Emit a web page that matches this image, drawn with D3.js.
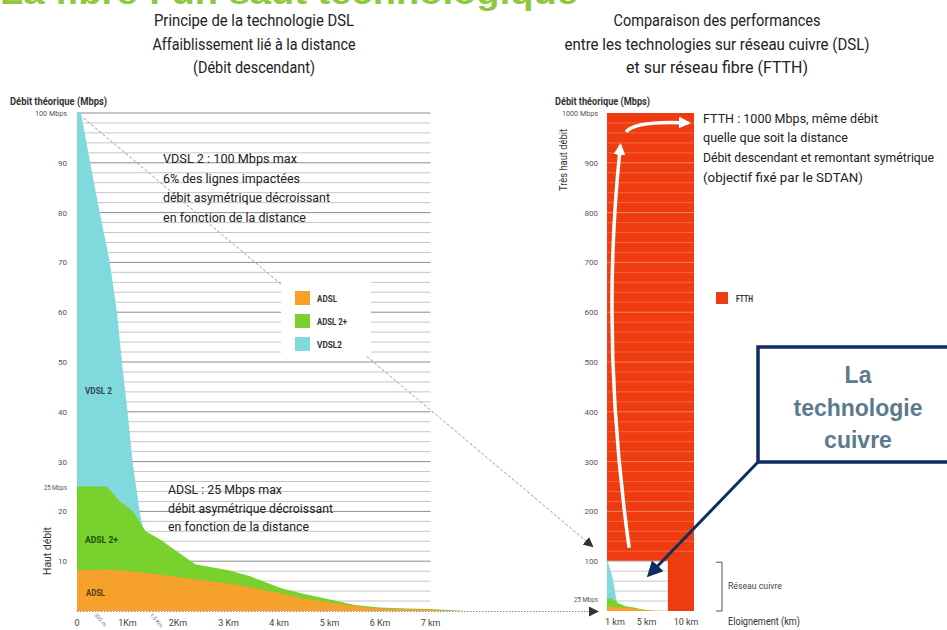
<!DOCTYPE html>
<html><head><meta charset="utf-8">
<script src="https://cdn.jsdelivr.net/npm/d3@7"></script>
<style>body{margin:0;background:#fff}svg{display:block}text{font-family:Roboto,"Open Sans",sans-serif}</style>
</head><body><svg id="c" width="947" height="630"></svg>
<script>
// ---------- DATA ----------
const seriesNames  = ["ADSL", "ADSL 2+", "VDSL2"];
const seriesColors = ["#f6a12b", "#78d12c", "#80d9dd"];
const seriesInside = ["ADSL", "ADSL 2+", "VDSL 2"];

const vdslKm    = [0, 0.08, 0.26, 0.45, 0.65, 0.79, 0.89, 1.0, 1.1, 1.17, 1.24, 1.3, 1.4];
const vdslMbps  = [100, 100, 90, 80, 70, 60, 50, 40, 30, 25, 20, 17, 0];
const adsl2Km   = [0, 0.59, 0.85, 1.11, 1.36, 1.64, 2.34, 3.0, 3.43, 4.03, 4.42, 5.05, 5.5, 6.0, 6.5, 7.0, 7.7];
const adsl2Mbps = [25, 25, 22, 20, 16, 14.4, 9.4, 8.2, 7.0, 4.6, 3.6, 2.2, 1.2, 0.7, 0.5, 0.4, 0];
const adslKm    = [0, 0.6, 1.25, 2.34, 3.0, 3.43, 4.0, 4.42, 5.05, 5.5, 6.0, 7.0, 7.4];
const adslMbps  = [8.2, 8.3, 7.8, 6.4, 5.5, 4.8, 3.6, 2.6, 1.6, 1.0, 0.5, 0.3, 0];

const leftYTicks  = [10, 20, 25, 30, 40, 50, 60, 70, 80, 90, 100];
const leftYLabels = ["10", "20", "25 Mbps", "30", "40", "50", "60", "70", "80", "90", "100 Mbps"];
const leftXTicks  = [0, 1, 2, 3, 4, 5, 6, 7];
const leftXLabels = ["0", "1Km", "2Km", "3 Km", "4 km", "5 km", "6 Km", "7 km"];
const leftXMinor  = [0.2, 1.3];
const leftXMinorLabels = ["300 m", "1,5 Km"];

const ftthName = "FTTH";
const ftthColor = "#ee3c10";
const ftthMbps = 1000;
const ftthKm = 11;
const copperKm = 7.7;
const copperMbps = 100;
const rightYTicks  = [25, 100, 200, 300, 400, 500, 600, 700, 800, 900, 1000];
const rightYLabels = ["25 Mbps", "100", "200", "300", "400", "500", "600", "700", "800", "900", "1000 Mbps"];
const rightXTicks  = [1, 5, 10];
const rightXLabels = ["1 km", "5 km", "10 km"];

const titleTop   = "La fibre : un saut technologique";
const titleLeft  = ["Principe de la technologie DSL", "Affaiblissement lié à la distance", "(Débit descendant)"];
const titleRight = ["Comparaison des performances", "entre les technologies sur réseau cuivre (DSL)", "et sur réseau fibre (FTTH)"];
const noteVdsl = ["VDSL 2 : 100 Mbps max", "6% des lignes impactées", "débit asymétrique décroissant", "en fonction de la distance"];
const noteAdsl = ["ADSL : 25 Mbps max", "débit asymétrique décroissant", "en fonction de la distance"];
const noteFtth = ["FTTH : 1000 Mbps, même débit", "quelle que soit la distance", "Débit descendant et remontant symétrique", "(objectif fixé par le SDTAN)"];
const boxLines = ["La", "technologie", "cuivre"];

// ---------- SETUP ----------
const svg = d3.select("#c");
const zip = (ks, vs) => ks.map((k, i) => ({km: k, v: vs[i]}));
const series = [zip(adslKm, adslMbps), zip(adsl2Km, adsl2Mbps), zip(vdslKm, vdslMbps)];

const xL = d3.scaleLinear().domain([0, 7]).range([77, 430.5]);
const yL = d3.scaleLinear().domain([0, 100]).range([611, 113]);
const xR = d3.scaleLinear().domain([0, ftthKm]).range([607, 694]);
const yR = d3.scaleLinear().domain([0, 1000]).range([611, 113]);

const defs = svg.append("defs");
function marker(id, color, size) {
  defs.append("marker").attr("id", id).attr("viewBox", "0 0 10 10").attr("refX", 8).attr("refY", 5)
    .attr("markerWidth", size).attr("markerHeight", size).attr("orient", "auto").attr("markerUnits", "userSpaceOnUse")
    .append("path").attr("d", "M0,0 L10,5 L0,10 z").attr("fill", color);
}
marker("mk", "#333", 10);
marker("mw", "#fff", 12);
marker("mn", "#0f2d62", 16);

function txt(g, x, y, s, o = {}) {
  const t = g.append("text").attr("x", x).attr("y", y).text(s)
    .attr("font-size", o.size || 12).attr("fill", o.fill || "#222")
    .attr("text-anchor", o.anchor || "start").attr("font-weight", o.weight || 400);
  if (o.len) t.attr("textLength", o.len).attr("lengthAdjust", "spacingAndGlyphs");
  if (o.family) t.style("font-family", o.family);
  if (o.rotate) t.attr("transform", `rotate(${o.rotate},${x},${y})`);
  return t;
}

// ---------- TOP TITLE (cut at the top edge, as in the reference) ----------
txt(svg, 0, 4, titleTop, {size: 34, weight: 700, fill: "#8fc740", len: 578, family: "'Liberation Sans',Arial,sans-serif"});

const tl = [200, 203, 122], tr = [207, 305, 182], tb = [26, 50, 73];
titleLeft.forEach((s, i) => txt(svg, 254, tb[i], s, {size: 16, anchor: "middle", len: tl[i], fill: "#222"}));
titleRight.forEach((s, i) => txt(svg, 717, tb[i], s, {size: 16, anchor: "middle", len: tr[i], fill: "#222"}));

// ---------- LEFT CHART ----------
const gL = svg.append("g");
d3.range(2, 101, 2).forEach(v => {
  gL.append("line").attr("x1", xL(0)).attr("x2", xL(7)).attr("y1", yL(v)).attr("y2", yL(v))
    .attr("stroke", v % 10 === 0 ? "#8c8c8c" : "#c6c6c6").attr("stroke-width", 1);
});
const areaL = d3.area().x(d => xL(d.km)).y0(yL(0)).y1(d => yL(d.v));
[2, 1, 0].forEach(i => gL.append("path").attr("d", areaL(series[i])).attr("fill", seriesColors[i]));

svg.append("line").attr("x1", xL(0)).attr("x2", 597).attr("y1", yL(0) + 0.5).attr("y2", yL(0) + 0.5)
  .attr("stroke", "#8a8a8a").attr("stroke-dasharray", "1.5,1.5").attr("marker-end", "url(#mk)");
svg.append("line").attr("x1", xL(0.13)).attr("y1", yL(99)).attr("x2", 592).attr("y2", 546)
  .attr("stroke", "#9a9a9a").attr("stroke-dasharray", "3,2").attr("marker-end", "url(#mk)");

leftYTicks.forEach((v, i) => txt(gL, 67, yL(v) + 3, leftYLabels[i], {size: 8, anchor: "end", fill: "#555", len: leftYLabels[i].length > 3 ? (v === 100 ? 32 : 23) : null}));
leftXTicks.forEach((v, i) => txt(gL, xL(v), 626, leftXLabels[i], {size: 9, anchor: "middle", fill: "#444"}));
leftXMinor.forEach((v, i) => txt(gL, xL(v) + 7, 615, leftXMinorLabels[i], {size: 5.5, fill: "#777", rotate: 50}));
txt(gL, 10, 105, "Débit théorique (Mbps)", {size: 10, weight: 700, fill: "#333", len: 97});
txt(gL, 51, 551, "Haut débit", {size: 11, anchor: "middle", fill: "#333", rotate: -90, len: 48});

txt(gL, 85, 394, seriesInside[2], {size: 9, weight: 700, fill: "#2c4a4a", len: 27});
txt(gL, 85, 543, seriesInside[1], {size: 9, weight: 700, fill: "#234d12", len: 33});
txt(gL, 86, 596, seriesInside[0], {size: 9, weight: 700, fill: "#5a3a10", len: 19});

const vb = [163, 183, 202, 222], vl = [134, 137, 167, 143];
noteVdsl.forEach((s, i) => txt(svg, 163, vb[i], s, {size: 13, fill: "#222", len: vl[i]}));
const ab = [494, 513, 531], al = [114, 165, 141];
noteAdsl.forEach((s, i) => txt(svg, 168, ab[i], s, {size: 13, fill: "#222", len: al[i]}));

const leg = svg.append("g");
leg.append("rect").attr("x", 281).attr("y", 281).attr("width", 90).attr("height", 75).attr("fill", "#fff");
seriesNames.forEach((n, i) => {
  leg.append("rect").attr("x", 295).attr("y", 291 + i * 23).attr("width", 15).attr("height", 14).attr("fill", seriesColors[i]);
  txt(leg, 317, 302 + i * 23, n, {size: 8.5, weight: 700, fill: "#333", len: [20, 30, 25][i]});
});

// ---------- RIGHT CHART ----------
const gR = svg.append("g");
gR.append("rect").attr("x", xR(0)).attr("y", yR(ftthMbps)).attr("width", xR(ftthKm) - xR(0))
  .attr("height", yR(0) - yR(ftthMbps)).attr("fill", ftthColor);
d3.range(120, 1000, 20).forEach(v => {
  gR.append("line").attr("x1", xR(0)).attr("x2", xR(ftthKm)).attr("y1", yR(v)).attr("y2", yR(v))
    .attr("stroke", "#ff9a78").attr("stroke-opacity", v % 100 === 0 ? 0.75 : 0.45).attr("stroke-width", 1);
});
gR.append("rect").attr("x", xR(0)).attr("y", yR(copperMbps)).attr("width", xR(copperKm) - xR(0))
  .attr("height", yR(0) - yR(copperMbps)).attr("fill", "#fff");
d3.range(20, 101, 20).forEach(v => {
  gR.append("line").attr("x1", xR(0)).attr("x2", xR(copperKm)).attr("y1", yR(v)).attr("y2", yR(v))
    .attr("stroke", "#c8c8c8").attr("stroke-width", 1);
});
const areaR = d3.area().x(d => xR(d.km)).y0(yR(0)).y1(d => yR(d.v));
[2, 1, 0].forEach(i => gR.append("path").attr("d", areaR(series[i])).attr("fill", seriesColors[i]));

rightYTicks.forEach((v, i) => txt(gR, 598, yR(v) + 3, rightYLabels[i], {size: 8, anchor: "end", fill: "#555", len: v === 1000 ? 36 : (v === 25 ? 24 : null)}));
rightXTicks.forEach((v, i) => txt(gR, xR(v), 625, rightXLabels[i], {size: 9, anchor: "middle", fill: "#444"}));
txt(gR, 555, 105, "Débit théorique (Mbps)", {size: 10, weight: 700, fill: "#333", len: 95});
txt(gR, 567, 160, "Très haut débit", {size: 10, anchor: "middle", fill: "#333", rotate: -90, len: 62});
txt(gR, 728, 625, "Eloignement  (km)", {size: 11, fill: "#333", len: 72});
txt(gR, 728, 589, "Réseau cuivre", {size: 9, fill: "#444", len: 54});
gR.append("path").attr("d", `M716,${yR(copperMbps) + 1}H722V${yR(0)}H716`).attr("fill", "none").attr("stroke", "#555");

gR.append("path").attr("d", `M${xR(2.8)},${yR(127)} Q${xR(-0.9)},${yR(550)} ${xR(1.7)},${yR(935)}`)
  .attr("fill", "none").attr("stroke", "#fff").attr("stroke-width", 3.5).attr("marker-end", "url(#mw)");
gR.append("path").attr("d", `M${xR(2.4)},${yR(962)} Q${xR(3.5)},${yR(985)} ${xR(10.3)},${yR(980)}`)
  .attr("fill", "none").attr("stroke", "#fff").attr("stroke-width", 3.5).attr("marker-end", "url(#mw)");

const fb = [123, 142, 162, 182], fl = [175, 145, 231, 160];
noteFtth.forEach((s, i) => txt(svg, 703, fb[i], s, {size: 13, fill: "#222", len: fl[i]}));
svg.append("rect").attr("x", 716).attr("y", 292).attr("width", 12).attr("height", 12).attr("fill", ftthColor);
txt(svg, 736, 302, ftthName, {size: 8.5, weight: 700, fill: "#333", len: 17});

const box = svg.append("g");
box.append("line").attr("x1", 758).attr("y1", 462).attr("x2", 649).attr("y2", 575)
  .attr("stroke", "#0f2d62").attr("stroke-width", 3).attr("marker-end", "url(#mn)");
box.append("rect").attr("x", 758).attr("y", 347).attr("width", 200).attr("height", 115)
  .attr("fill", "#fff").attr("stroke", "#0f2d62").attr("stroke-width", 3.5);
[383, 416, 448].forEach((y, i) => txt(box, 858, y, boxLines[i], {size: 23, weight: 700, anchor: "middle", fill: "#5b7a8e", family: "'Liberation Sans',Arial,sans-serif"}));
</script></body></html>
